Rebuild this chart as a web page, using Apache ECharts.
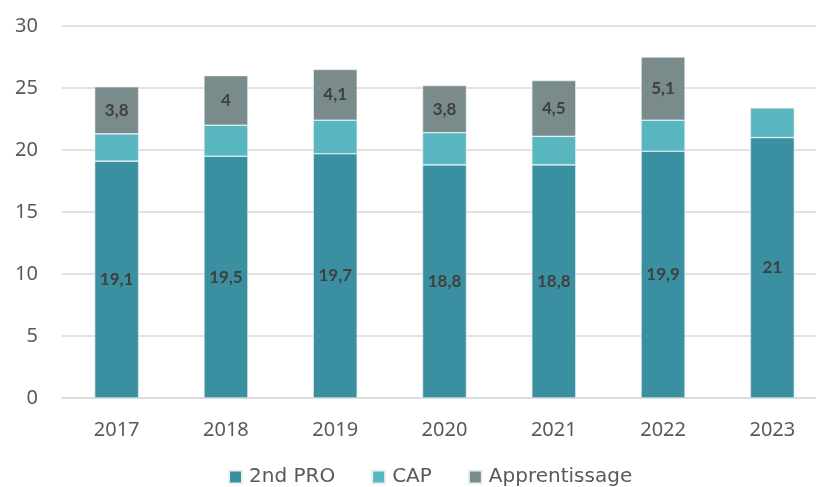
<!DOCTYPE html>
<html><head><meta charset="utf-8">
<script src="https://cdn.jsdelivr.net/npm/echarts@6/dist/echarts.min.js"></script>
<style>html,body{margin:0;padding:0;background:#fff}#c{width:816px;height:487px}</style>
</head><body><div id="c"></div>
<script>
const categories = ['2017','2018','2019','2020','2021','2022','2023'];
const pro2nd = [19.1, 19.5, 19.7, 18.8, 18.8, 19.9, 21];
const cap = [2.2, 2.5, 2.7, 2.6, 2.3, 2.5, 2.4];
const apprentissage = [3.8, 4, 4.1, 3.8, 4.5, 5.1, null];
const yTicks = [0, 5, 10, 15, 20, 25, 30];

const fmt = p => String(p.value).replace('.', ',');
const font = '"Noto Sans", sans-serif';
const lbl = {show: true, position: 'inside', formatter: fmt, color: '#404040', fontWeight: 'bold', fontSize: 17, fontFamily: 'Lato, sans-serif'};
const chart = echarts.init(document.getElementById('c'));
chart.setOption({
  animation: false,
  grid: {left: 62, top: 26, width: 765, height: 372, outerBoundsMode: 'none', containLabel: false},
  legend: {top: 462, left: 223, itemWidth: 13, itemHeight: 13, itemGap: 36, icon: 'rect',
    textStyle: {fontSize: 20, color: '#595959', fontFamily: '"DejaVu Sans", sans-serif', padding: [0, 0, 0, 2]}},
  xAxis: {type: 'category', data: categories, axisTick: {show: false},
    axisLine: {lineStyle: {color: '#d9d9d9', width: 1.5}},
    axisLabel: {fontSize: 20, color: '#595959', margin: 22, fontFamily: font}},
  yAxis: {type: 'value', min: 0, max: 30, interval: 5,
    axisLabel: {fontSize: 20, color: '#595959', margin: 24, fontFamily: font,
      formatter: v => yTicks.includes(v) ? String(v) : ''},
    splitLine: {lineStyle: {color: '#d9d9d9', width: 1.5}}},
  series: [
    {name: '2nd PRO', type: 'bar', stack: 's', data: pro2nd, barWidth: 44, itemStyle: {color: '#3a8fa0', borderColor: '#e8f0f2', borderWidth: 0.6}, label: lbl},
    {name: 'CAP', type: 'bar', stack: 's', data: cap, itemStyle: {color: '#58b6c0', borderColor: '#e8f0f2', borderWidth: 0.6}},
    {name: 'Apprentissage', type: 'bar', stack: 's', data: apprentissage, itemStyle: {color: '#7a8b8c', borderColor: '#e8f0f2', borderWidth: 0.6}, label: lbl}
  ]
});
</script></body></html>
